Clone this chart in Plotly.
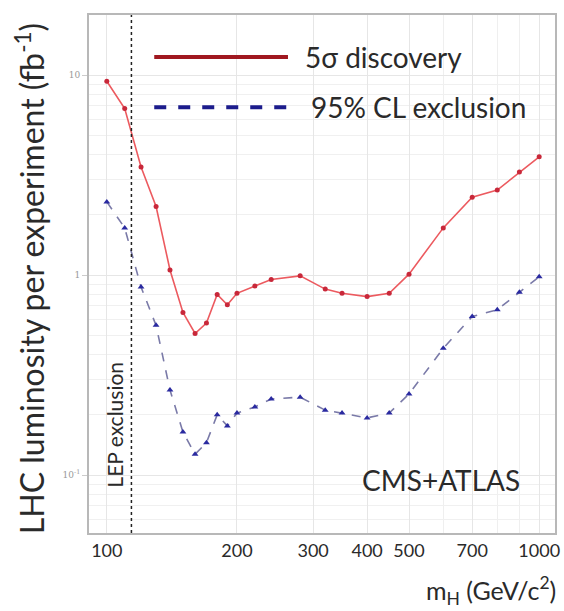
import math
import plotly.graph_objects as go

# Data
mh_disc = [100, 110, 120, 130, 140, 150, 160, 170, 180, 190, 200, 220, 240, 280, 320, 350, 400, 450, 500, 600, 700, 800, 900, 1000]
lumi_disc = [9.3, 6.8, 3.47, 2.2, 1.06, 0.65, 0.51, 0.575, 0.80, 0.71, 0.81, 0.88, 0.95, 0.99, 0.85, 0.81, 0.78, 0.81, 1.01, 1.72, 2.45, 2.66, 3.27, 3.9]
mh_excl = [100, 110, 120, 130, 140, 150, 160, 170, 180, 190, 200, 220, 240, 280, 320, 350, 400, 450, 500, 600, 700, 800, 900, 1000]
lumi_excl = [2.32, 1.72, 0.87, 0.56, 0.266, 0.164, 0.127, 0.145, 0.20, 0.176, 0.204, 0.219, 0.24, 0.245, 0.211, 0.204, 0.193, 0.204, 0.254, 0.43, 0.62, 0.67, 0.82, 0.98]
x_ticks = [100, 200, 300, 400, 500, 700, 1000]
y_ticks = [0.1, 1, 10]
y_ticktext = ["10<sup>-1</sup>", "1", "10"]
lep_limit = 114

FONT = "Lato"
TXT = "#2a2a2a"

fig = go.Figure()
fig.add_trace(go.Scatter(
    x=mh_disc, y=lumi_disc, mode="lines+markers", name="5σ discovery",
    line=dict(color="#ec5a5f", width=1.6),
    marker=dict(color="#c8283a", size=5, symbol="circle"),
    showlegend=False))
fig.add_trace(go.Scatter(
    x=mh_excl, y=lumi_excl, mode="lines+markers", name="95% CL exclusion",
    line=dict(color="#7a7aa8", width=1.6, dash="dash"),
    marker=dict(color="#2a2aa0", size=6, symbol="triangle-up"),
    showlegend=False))

# LEP exclusion line
fig.add_shape(type="line", xref="x", yref="paper", x0=lep_limit, x1=lep_limit, y0=0, y1=1,
              line=dict(color="#222", width=1.5, dash="dot"))

# Legend samples
fig.add_shape(type="line", xref="paper", yref="paper", x0=0.140, x1=0.427, y0=0.919, y1=0.919,
              line=dict(color="#a01820", width=4))
fig.add_shape(type="line", xref="paper", yref="paper", x0=0.140, x1=0.427, y0=0.822, y1=0.822,
              line=dict(color="#1c1c8c", width=4, dash="dash"))
fig.add_annotation(xref="paper", yref="paper", x=0.459, y=0.919, xanchor="left", yanchor="middle",
                   text="5σ discovery", showarrow=False, font=dict(family=FONT, size=28, color=TXT))
fig.add_annotation(xref="paper", yref="paper", x=0.472, y=0.822, xanchor="left", yanchor="middle",
                   text="95% CL exclusion", showarrow=False, font=dict(family=FONT, size=28, color=TXT))

fig.add_annotation(xref="paper", yref="paper", x=0.755, y=0.102, xanchor="center", yanchor="middle",
                   text="CMS+ATLAS", showarrow=False, font=dict(family=FONT, size=28, color=TXT))
fig.add_annotation(xref="x", yref="paper", x=math.log10(lep_limit), xshift=-17, y=0.21,
                   xanchor="center", yanchor="middle", textangle=-90,
                   text="LEP exclusion", showarrow=False, font=dict(family=FONT, size=21, color=TXT))

# Axis titles as annotations
fig.add_annotation(xref="paper", yref="paper", x=0, xshift=-59, y=0.49, xanchor="center", yanchor="middle",
                   textangle=-90, text="LHC luminosity per experiment (fb<sup>-1</sup>)", showarrow=False,
                   font=dict(family=FONT, size=32, color=TXT))
fig.add_annotation(xref="paper", yref="paper", x=1, xshift=3, y=0, yshift=-57, xanchor="right", yanchor="middle",
                   text="m<sub>H</sub> (GeV/c<sup>2</sup>)", showarrow=False,
                   font=dict(family=FONT, size=25, color=TXT))

minor_y = [m * 10 ** e for e in (-2, -1, 0, 1) for m in range(2, 10)]

fig.update_xaxes(type="log", range=[1.9588, 3.0366], tickmode="array", tickvals=x_ticks,
                 ticktext=[str(v) for v in x_ticks], tickfont=dict(family=FONT, size=18, color=TXT),
                 ticklabeloverflow="allow",
                 showgrid=True, gridcolor="#e6e6e6", gridwidth=1,
                 minor=dict(tickvals=[v for v in range(200, 1001, 100)], showgrid=True, gridcolor="#efefef"),
                 showline=True, linecolor="#b8b8b8", linewidth=2, mirror=True,
                 ticks="", zeroline=False)
fig.update_yaxes(type="log", range=[-1.29, 1.30], tickmode="array", tickvals=y_ticks, ticktext=y_ticktext,
                 tickfont=dict(family="DejaVu Serif", size=9, color="#999"),
                 showgrid=True, gridcolor="#e6e6e6", gridwidth=1,
                 minor=dict(tickvals=minor_y, showgrid=True, gridcolor="#f0f0f0"),
                 showline=True, linecolor="#b8b8b8", linewidth=2, mirror=True,
                 ticks="outside", ticklen=5, tickcolor="#ccc", zeroline=False)

fig.update_layout(width=564, height=611, margin=dict(l=89, r=4, t=15, b=78),
                  paper_bgcolor="white", plot_bgcolor="white", showlegend=False)

# remove the page's default body margin so the figure fills the window exactly
fig.write_html("out.html", config={"displayModeBar": False},
               post_script="document.body.style.margin='0';document.body.style.overflow='hidden';")
